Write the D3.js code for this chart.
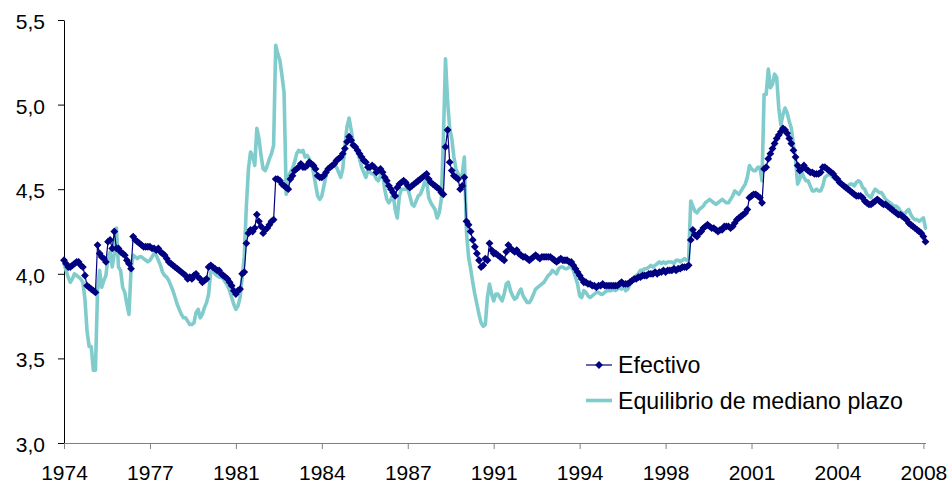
<!DOCTYPE html>
<html>
<head>
<meta charset="utf-8">
<script src="https://cdn.jsdelivr.net/npm/d3@7"></script>
<style>
  html, body { margin: 0; padding: 0; background: #fff; }
  svg { display: block; font-family: "Liberation Sans", Arial, sans-serif; }
</style>
</head>
<body>
<svg id="chart" width="949" height="484"></svg>
<script>
// Monthly series, first observation March 1974, last May 2008
const efectivo = [
  4.08, 4.06, 4.04, 4.04, 4.05, 4.06, 4.07, 4.07, 4.05, 4.04,
  3.99, 3.93, 3.92, 3.91, 3.90, 3.89, 4.17, 4.12, 4.10, 4.09,
  4.07, 4.19, 4.20, 4.15, 4.25, 4.15, 4.15, 4.13, 4.12, 4.11,
  4.08, 4.06, 4.03, 4.22, 4.20, 4.19, 4.18, 4.17, 4.16, 4.16,
  4.16, 4.16, 4.15, 4.15, 4.14, 4.15, 4.13, 4.12, 4.11, 4.09,
  4.07, 4.06, 4.05, 4.04, 4.03, 4.02, 4.01, 4.00, 3.99, 3.97,
  3.98, 3.97, 3.99, 4.00, 3.98, 3.97, 3.95, 3.96, 3.97, 4.04,
  4.05, 4.04, 4.03, 4.02, 4.02, 4.00, 3.99, 3.98, 3.97, 3.95,
  3.93, 3.90, 3.88, 3.90, 3.91, 4.00, 4.01, 4.18, 4.24, 4.26,
  4.25, 4.27, 4.35, 4.31, 4.28, 4.24, 4.26, 4.27, 4.29, 4.31,
  4.32, 4.56, 4.56, 4.55, 4.53, 4.52, 4.51, 4.50, 4.56, 4.58,
  4.61, 4.62, 4.63, 4.65, 4.63, 4.63, 4.64, 4.66, 4.65, 4.64,
  4.62, 4.58, 4.57, 4.57, 4.58, 4.60, 4.62, 4.63, 4.64, 4.65,
  4.67, 4.68, 4.69, 4.71, 4.74, 4.78, 4.81, 4.79, 4.76, 4.75,
  4.73, 4.71, 4.69, 4.67, 4.66, 4.63, 4.63, 4.64, 4.63, 4.60,
  4.61, 4.62, 4.60, 4.57, 4.55, 4.52, 4.50, 4.48, 4.46, 4.51,
  4.53, 4.54, 4.55, 4.54, 4.52, 4.51, 4.52, 4.53, 4.54, 4.55,
  4.56, 4.57, 4.58, 4.59, 4.56, 4.54, 4.53, 4.52, 4.51, 4.50,
  4.48, 4.47, 4.75, 4.85, 4.66, 4.61, 4.58, 4.57, 4.56, 4.50,
  4.52, 4.57, 4.31, 4.29, 4.25, 4.20, 4.16, 4.12, 4.08, 4.04,
  4.05, 4.09, 4.08, 4.18, 4.14, 4.12, 4.12, 4.11, 4.10, 4.09,
  4.08, 4.13, 4.17, 4.15, 4.14, 4.13, 4.14, 4.12, 4.11, 4.10,
  4.10, 4.09, 4.08, 4.09, 4.10, 4.11, 4.10, 4.09, 4.10, 4.10,
  4.10, 4.10, 4.10, 4.09, 4.08, 4.07, 4.08, 4.09, 4.08, 4.08,
  4.08, 4.07, 4.07, 4.05, 4.03, 4.01, 3.99, 3.97, 3.95, 3.95,
  3.94, 3.94, 3.93, 3.93, 3.92, 3.93, 3.93, 3.94, 3.93, 3.93,
  3.93, 3.93, 3.93, 3.93, 3.93, 3.94, 3.95, 3.94, 3.94, 3.94,
  3.95, 3.96, 3.97, 3.97, 3.98, 3.98, 3.99, 3.99, 3.99, 4.00,
  4.00, 4.00, 4.01, 4.00, 4.01, 4.01, 4.02, 4.01, 4.02, 4.02,
  4.02, 4.03, 4.02, 4.03, 4.03, 4.04, 4.04, 4.04, 4.05, 4.20,
  4.26, 4.23, 4.22, 4.24, 4.25, 4.27, 4.28, 4.29, 4.28, 4.27,
  4.27, 4.26, 4.25, 4.26, 4.26, 4.28, 4.28, 4.28, 4.27, 4.28,
  4.30, 4.32, 4.33, 4.34, 4.35, 4.36, 4.38, 4.45, 4.46, 4.47,
  4.47, 4.46, 4.45, 4.42, 4.62, 4.63, 4.68, 4.71, 4.74, 4.77,
  4.80, 4.82, 4.84, 4.86, 4.85, 4.83, 4.80, 4.77, 4.73, 4.69,
  4.64, 4.61, 4.62, 4.64, 4.62, 4.61, 4.60, 4.60, 4.59, 4.59,
  4.59, 4.60, 4.63, 4.63, 4.62, 4.61, 4.60, 4.59, 4.57, 4.56,
  4.54, 4.53, 4.52, 4.51, 4.50, 4.49, 4.48, 4.47, 4.46, 4.46,
  4.46, 4.45, 4.43, 4.42, 4.41, 4.41, 4.42, 4.43, 4.44, 4.43,
  4.42, 4.41, 4.41, 4.40, 4.39, 4.38, 4.37, 4.36, 4.35, 4.35,
  4.34, 4.33, 4.32, 4.30, 4.29, 4.28, 4.27, 4.26, 4.25, 4.24,
  4.22, 4.19
];

const equilibrio = [
  4.06, 4.02, 3.98, 3.95, 3.97, 4.00, 3.99, 3.98, 3.97, 3.95,
  3.85, 3.66, 3.57, 3.57, 3.43, 3.43, 3.90, 4.02, 3.92, 3.96,
  3.99, 4.10, 4.13, 4.04, 4.12, 4.27, 4.04, 4.02, 3.92, 3.89,
  3.82, 3.76, 4.03, 4.11, 4.10, 4.09, 4.10, 4.10, 4.09, 4.08,
  4.07, 4.08, 4.10, 4.12, 4.11, 4.08, 4.05, 4.01, 3.99, 3.98,
  3.96, 3.93, 3.90, 3.86, 3.82, 3.79, 3.76, 3.74, 3.74, 3.72,
  3.70, 3.70, 3.71, 3.77, 3.79, 3.74, 3.76, 3.80, 3.83, 3.88,
  4.01, 4.02, 4.00, 3.99, 3.98, 3.98, 3.97, 3.95, 3.93, 3.90,
  3.86, 3.82, 3.79, 3.81, 3.86, 3.98, 4.10, 4.40, 4.62, 4.72,
  4.70, 4.64, 4.86, 4.80, 4.70, 4.62, 4.61, 4.64, 4.68, 4.71,
  4.76, 5.35, 5.30, 5.26, 5.17, 5.07, 4.47, 4.57, 4.60, 4.62,
  4.66, 4.71, 4.73, 4.72, 4.73, 4.69, 4.70, 4.68, 4.65, 4.60,
  4.53, 4.46, 4.44, 4.46, 4.52, 4.58, 4.62, 4.63, 4.64, 4.64,
  4.63, 4.60, 4.57, 4.62, 4.75, 4.87, 4.92, 4.85, 4.77, 4.75,
  4.72, 4.68, 4.63, 4.60, 4.57, 4.61, 4.60, 4.59, 4.59, 4.56,
  4.55, 4.58, 4.60, 4.50, 4.44, 4.42, 4.44, 4.47, 4.38, 4.33,
  4.46, 4.50, 4.50, 4.50, 4.50, 4.46, 4.41, 4.40, 4.43, 4.46,
  4.47, 4.50, 4.54, 4.55, 4.45, 4.42, 4.40, 4.38, 4.33, 4.36,
  4.44, 4.80, 5.27, 5.02, 4.86, 4.80, 4.69, 4.62, 4.59, 4.57,
  4.59, 4.69, 4.25, 4.10, 4.03, 3.95, 3.88, 3.82, 3.76, 3.71,
  3.69, 3.70, 3.86, 3.94, 3.88, 3.84, 3.88, 3.88, 3.86, 3.84,
  3.88, 3.94, 3.95, 3.90, 3.87, 3.85, 3.86, 3.89, 3.91, 3.87,
  3.85, 3.83, 3.83, 3.85, 3.88, 3.91, 3.92, 3.93, 3.94, 3.95,
  3.97, 3.99, 4.00, 4.02, 4.01, 4.00, 4.03, 4.04, 4.04, 4.03,
  4.03, 4.04, 4.04, 4.02, 3.98, 3.94, 3.87, 3.86, 3.90, 3.89,
  3.87, 3.86, 3.87, 3.88, 3.89, 3.89, 3.88, 3.88, 3.89, 3.90,
  3.90, 3.90, 3.91, 3.90, 3.91, 3.92, 3.91, 3.93, 3.90, 3.91,
  3.94, 3.96, 3.97, 3.99, 4.00, 4.02, 4.02, 4.03, 4.03, 4.04,
  4.05, 4.04, 4.05, 4.06, 4.07, 4.06, 4.07, 4.06, 4.07, 4.07,
  4.07, 4.06, 4.08, 4.08, 4.07, 4.08, 4.09, 4.08, 4.09, 4.43,
  4.40, 4.37, 4.36, 4.38, 4.39, 4.40, 4.42, 4.43, 4.44, 4.43,
  4.42, 4.41, 4.42, 4.43, 4.44, 4.43, 4.42, 4.42, 4.44, 4.46,
  4.49, 4.48, 4.47, 4.49, 4.51, 4.53, 4.57, 4.64, 4.62, 4.61,
  4.61, 4.63, 4.63, 4.55, 5.06, 5.06, 5.21, 5.10, 5.12, 5.18,
  5.16, 4.98, 4.88, 4.94, 4.98, 4.95, 4.90, 4.86, 4.76, 4.68,
  4.53, 4.56, 4.60, 4.57, 4.55, 4.55, 4.52, 4.49, 4.49, 4.50,
  4.49, 4.49, 4.52, 4.57, 4.58, 4.59, 4.58, 4.57, 4.56, 4.55,
  4.54, 4.53, 4.52, 4.51, 4.52, 4.53, 4.53, 4.52, 4.54, 4.55,
  4.54, 4.51, 4.50, 4.47, 4.46, 4.45, 4.48, 4.50, 4.49, 4.48,
  4.48, 4.46, 4.44, 4.43, 4.42, 4.41, 4.40, 4.40, 4.39, 4.37,
  4.36, 4.35, 4.37, 4.38, 4.35, 4.33, 4.32, 4.32, 4.31, 4.32,
  4.33, 4.27
];

// Category axis: one label every 41 months
const tickLabels = ["1974", "1977", "1981", "1984", "1987", "1991", "1994", "1998", "2001", "2004", "2008"];
const tickStep = 41;
const yTicks = [3.0, 3.5, 4.0, 4.5, 5.0, 5.5];
const seriesNames = ["Efectivo", "Equilibrio de mediano plazo"];

const navy = "#000080";
const teal = "#80cbcb";

const svg = d3.select("#chart");
const plot = { left: 64, right: 925.5, top: 20, bottom: 443 };

const x = d3.scaleLinear().domain([0, efectivo.length - 1]).range([plot.left, plot.right]);
const y = d3.scaleLinear().domain([3.0, 5.5]).range([plot.bottom, plot.top]);

const comma = d3.formatLocale({ decimal: ",", thousands: ".", grouping: [3], currency: ["", ""] }).format(".1f");

// Y axis
const yAxis = svg.append("g")
  .attr("transform", `translate(${plot.left},0)`)
  .call(d3.axisLeft(y).tickValues(yTicks).tickFormat(comma).tickSize(6).tickSizeOuter(0).tickPadding(13));
yAxis.select(".domain").attr("stroke", "#000");
yAxis.selectAll(".tick line").attr("stroke", "#000");
yAxis.selectAll(".tick text")
  .attr("font-size", 21).attr("fill", "#000").attr("dy", "0.40em")
  .style("font-family", "'Liberation Sans', Arial, sans-serif");

// X axis
const xAxis = svg.append("g")
  .attr("transform", `translate(0,${plot.bottom})`)
  .call(d3.axisBottom(x)
    .tickValues(tickLabels.map((_, k) => k * tickStep))
    .tickFormat(d => tickLabels[d / tickStep])
    .tickSize(6).tickSizeOuter(0).tickPadding(17));
xAxis.select(".domain").attr("stroke", "#808080");
xAxis.selectAll(".tick line").attr("stroke", "#808080");
xAxis.selectAll(".tick text")
  .attr("font-size", 21).attr("fill", "#000").attr("dy", "0.68em")
  .style("font-family", "'Liberation Sans', Arial, sans-serif");

// Equilibrium series (thick teal line)
const line = d3.line().x((d, i) => x(i)).y(d => y(d));
svg.append("path")
  .datum(equilibrio)
  .attr("fill", "none")
  .attr("stroke", teal)
  .attr("stroke-width", 3.6)
  .attr("stroke-linejoin", "round")
  .attr("stroke-linecap", "round")
  .attr("d", line);

// Effective series: thin navy line with diamond markers
svg.append("path")
  .datum(efectivo)
  .attr("fill", "none")
  .attr("stroke", navy)
  .attr("stroke-width", 1.2)
  .attr("d", line);

const diamond = r => `M0,${-r}L${r},0L0,${r}L${-r},0Z`;
svg.append("g")
  .selectAll("path")
  .data(efectivo)
  .join("path")
  .attr("transform", (d, i) => `translate(${x(i)},${y(d)})`)
  .attr("d", diamond(3.9))
  .attr("fill", navy);

// Legend
const legend = svg.append("g").attr("transform", "translate(586,365)");
const rowGap = 35.5;
legend.append("line").attr("x1", 0).attr("x2", 26).attr("y1", 0).attr("y2", 0)
  .attr("stroke", navy).attr("stroke-width", 1.2);
legend.append("path").attr("transform", "translate(13,0)").attr("d", diamond(3.9)).attr("fill", navy);
legend.append("line").attr("x1", 0).attr("x2", 26).attr("y1", rowGap).attr("y2", rowGap)
  .attr("stroke", teal).attr("stroke-width", 3.6);
legend.selectAll("text.lbl")
  .data(seriesNames)
  .join("text")
  .attr("class", "lbl")
  .attr("x", 32)
  .attr("y", (d, k) => k * rowGap + 8.3)
  .attr("font-size", 23.2)
  .attr("fill", "#000")
  .text(d => d);
</script>
</body>
</html>
